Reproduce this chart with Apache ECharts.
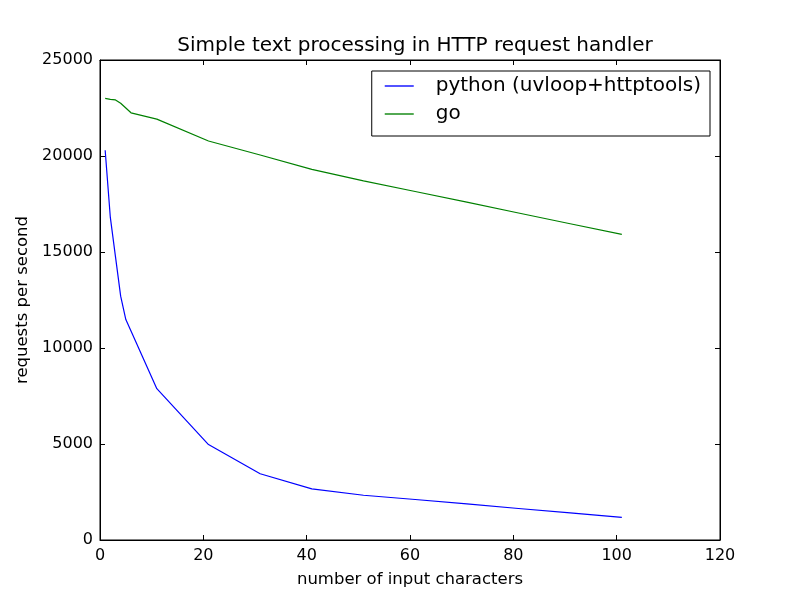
<!DOCTYPE html>
<html>
<head>
<meta charset="utf-8">
<script src="https://cdn.jsdelivr.net/npm/echarts@6/dist/echarts.min.js"></script>
<style>
  html, body { margin: 0; padding: 0; background: #fff; }
  #chart { width: 800px; height: 600px; }
</style>
</head>
<body>
<div id="chart"></div>
<script>
// input length (characters) on x
var inputChars = [1, 2, 3, 4, 5, 6, 11, 21, 31, 41, 51, 61, 71, 81, 91, 101];
// requests per second
var pythonRps = [20300, 16800, 14750, 12700, 11480, 10880, 7880, 4970, 3450, 2660, 2330, 2110, 1880, 1640, 1410, 1180];
var goRps     = [23000, 22950, 22920, 22750, 22500, 22250, 21920, 20780, 20050, 19300, 18700, 18150, 17600, 17030, 16470, 15920];

var seriesNames = ['python (uvloop+httptools)', 'go'];

function pairs(xs, ys) {
    var out = [];
    for (var i = 0; i < xs.length; i++) {
        out.push([xs[i], ys[i]]);
    }
    return out;
}

// matplotlib-ish ticks: pointing into the plot
function ticks() {
    return { show: true, inside: true, length: 5, lineStyle: { color: '#000', width: 1 } };
}

var font = 'DejaVu Sans';
var chart = echarts.init(document.getElementById('chart'));

option = {
    animation: false,
    textStyle: { fontFamily: font },
    title: {
        text: 'Simple text processing in HTTP request handler',
        left: 410,
        top: 31,
        textAlign: 'center',
        textStyle: { fontFamily: font, fontSize: 20, fontWeight: 'normal', color: '#000' }
    },
    legend: {
        orient: 'vertical',
        right: 90,
        top: 71,
        data: seriesNames,
        icon: 'path://M0,0 L30,0 L30,1.4 L0,1.4 Z',
        itemWidth: 29,
        itemHeight: 2,
        itemGap: 8,
        padding: [5, 9, 12, 13],
        borderColor: '#000',
        borderWidth: 1,
        borderRadius: 0,
        align: 'left',
        textStyle: { fontFamily: font, fontSize: 20, color: '#000', padding: [0, 0, 0, 17] }
    },
    grid: {
        left: 100,
        right: 80,
        top: 60,
        bottom: 60,
        show: true,
        borderColor: '#000',
        borderWidth: 1,
        backgroundColor: '#fff'
    },
    xAxis: [
        {
            type: 'value',
            min: 0,
            max: 120,
            interval: 20,
            name: 'number of input characters',
            nameLocation: 'middle',
            nameGap: 31,
            nameTextStyle: { fontFamily: font, fontSize: 16.5, color: '#000' },
            axisLine: { show: true, onZero: false, lineStyle: { color: '#000' } },
            axisTick: ticks(),
            axisLabel: { fontFamily: font, fontSize: 16, color: '#000', margin: 8 },
            splitLine: { show: false }
        },
        {
            type: 'value',
            position: 'top',
            min: 0,
            max: 120,
            interval: 20,
            axisLine: { show: true, onZero: false, lineStyle: { color: '#000' } },
            axisTick: ticks(),
            axisLabel: { show: false },
            splitLine: { show: false }
        }
    ],
    yAxis: [
        {
            type: 'value',
            min: 0,
            max: 25000,
            interval: 5000,
            name: 'requests per second',
            nameLocation: 'middle',
            nameGap: 64,
            nameTextStyle: { fontFamily: font, fontSize: 16.5, color: '#000' },
            axisLine: { show: true, onZero: false, lineStyle: { color: '#000' } },
            axisTick: ticks(),
            axisLabel: {
                fontFamily: font, fontSize: 16, color: '#000', margin: 7,
                formatter: function (v) { return String(v); }
            },
            splitLine: { show: false }
        },
        {
            type: 'value',
            position: 'right',
            min: 0,
            max: 25000,
            interval: 5000,
            axisLine: { show: true, onZero: false, lineStyle: { color: '#000' } },
            axisTick: ticks(),
            axisLabel: { show: false },
            splitLine: { show: false }
        }
    ],
    series: [
        {
            name: seriesNames[0],
            type: 'line',
            data: pairs(inputChars, pythonRps),
            showSymbol: false,
            color: '#0000ff',
            lineStyle: { width: 1.2, color: '#0000ff' }
        },
        {
            name: seriesNames[1],
            type: 'line',
            data: pairs(inputChars, goRps),
            showSymbol: false,
            color: '#008000',
            lineStyle: { width: 1.2, color: '#008000' }
        }
    ]
};

chart.setOption(option);
</script>
</body>
</html>
